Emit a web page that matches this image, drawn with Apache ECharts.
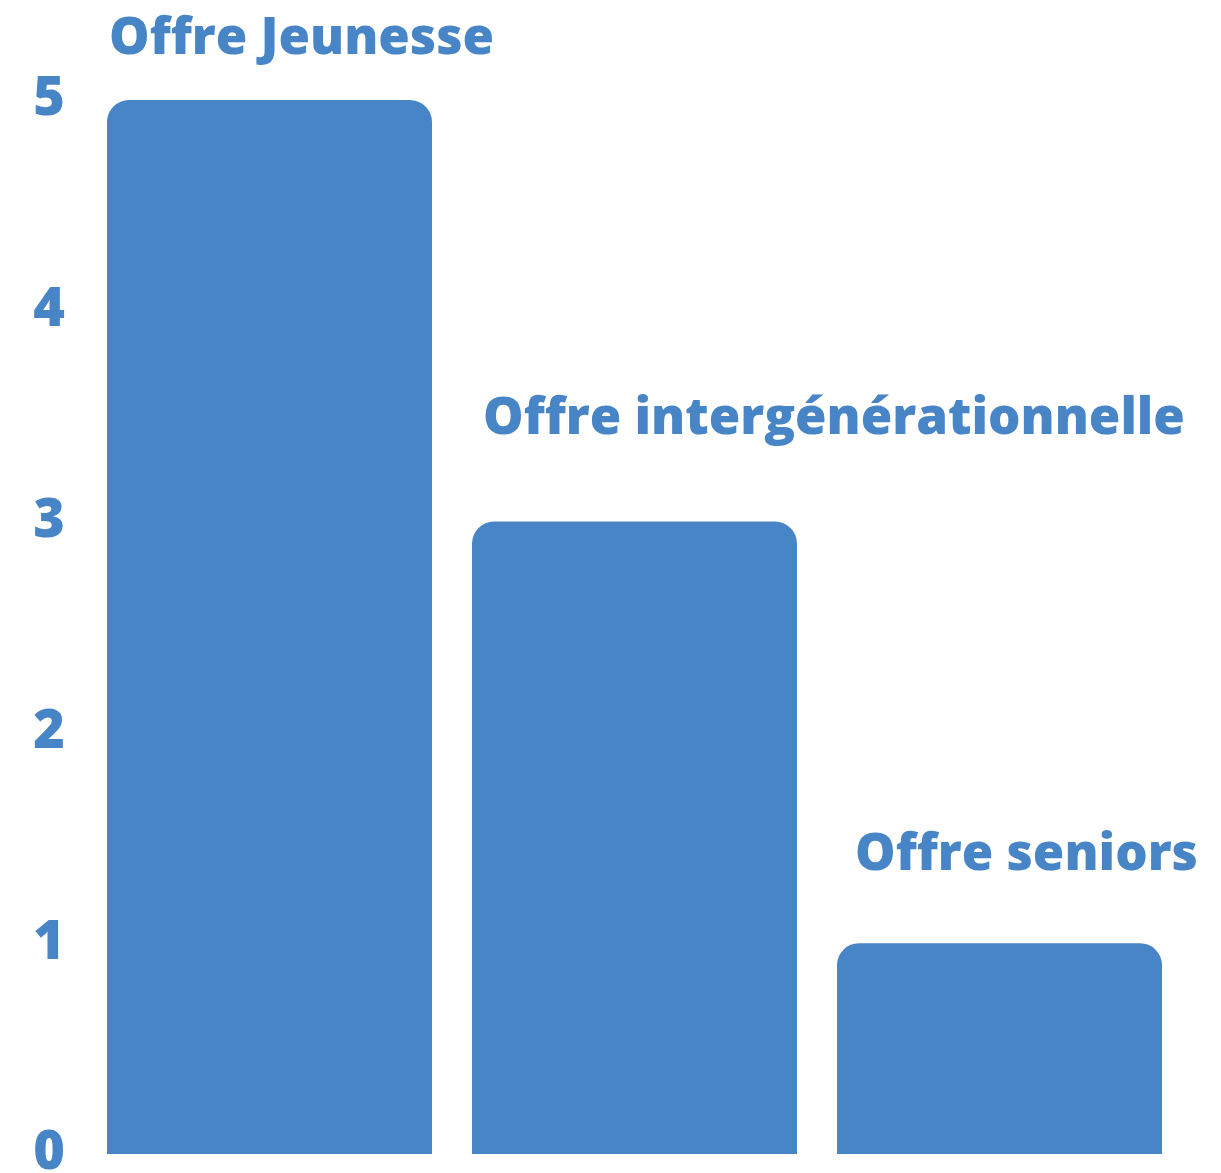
<!DOCTYPE html>
<html>
<head>
<meta charset="utf-8">
<script src="https://cdn.jsdelivr.net/npm/echarts@6/dist/echarts.min.js"></script>
<style>
  html, body { margin: 0; padding: 0; background: #fff; }
  #chart { width: 1221px; height: 1173px; }
</style>
</head>
<body>
<div id="chart"></div>
<script>
// offres et nombre
var offres = ['Offre Jeunesse', 'Offre intergénérationnelle', 'Offre seniors'];
var nombres = [5, 3, 1];
var yTicks = [0, 1, 2, 3, 4, 5];

var bleu = '#4785c7';
// decalage des etiquettes (pas le meme pour chaque barre)
var decal = [[2, -61], [11, -102], [18, -88]];

var myChart = echarts.init(document.getElementById('chart'));

var data = [];
for (var i = 0; i < nombres.length; i++) {
    data.push({
        value: nombres[i],
        label: { position: decal[i] }
    });
}

var option = {
    animation: false,
    grid: { left: 87, right: 39, top: 100, bottom: 19, containLabel: false, outerBoundsMode: 'none' },
    xAxis: {
        type: 'category',
        data: offres,
        axisLine: { show: false },
        axisTick: { show: false },
        axisLabel: { show: false }
    },
    yAxis: {
        type: 'value',
        min: yTicks[0],
        max: yTicks[yTicks.length - 1],
        interval: 1,
        splitLine: { show: false },
        axisLine: { show: false },
        axisTick: { show: false },
        axisLabel: {
            color: bleu,
            fontFamily: 'Open Sans',
            fontWeight: 800,
            fontSize: 54,
            margin: 22
        }
    },
    series: [{
        type: 'bar',
        data: data,
        barWidth: 325,
        itemStyle: { color: bleu, borderRadius: [22, 22, 0, 0] },
        label: {
            show: true,
            formatter: function (p) { return p.name; },
            color: bleu,
            fontFamily: 'Open Sans',
            fontWeight: 800,
            fontSize: 51,
            align: 'left',
            verticalAlign: 'middle'
        }
    }]
};
myChart.setOption(option);
</script>
</body>
</html>
